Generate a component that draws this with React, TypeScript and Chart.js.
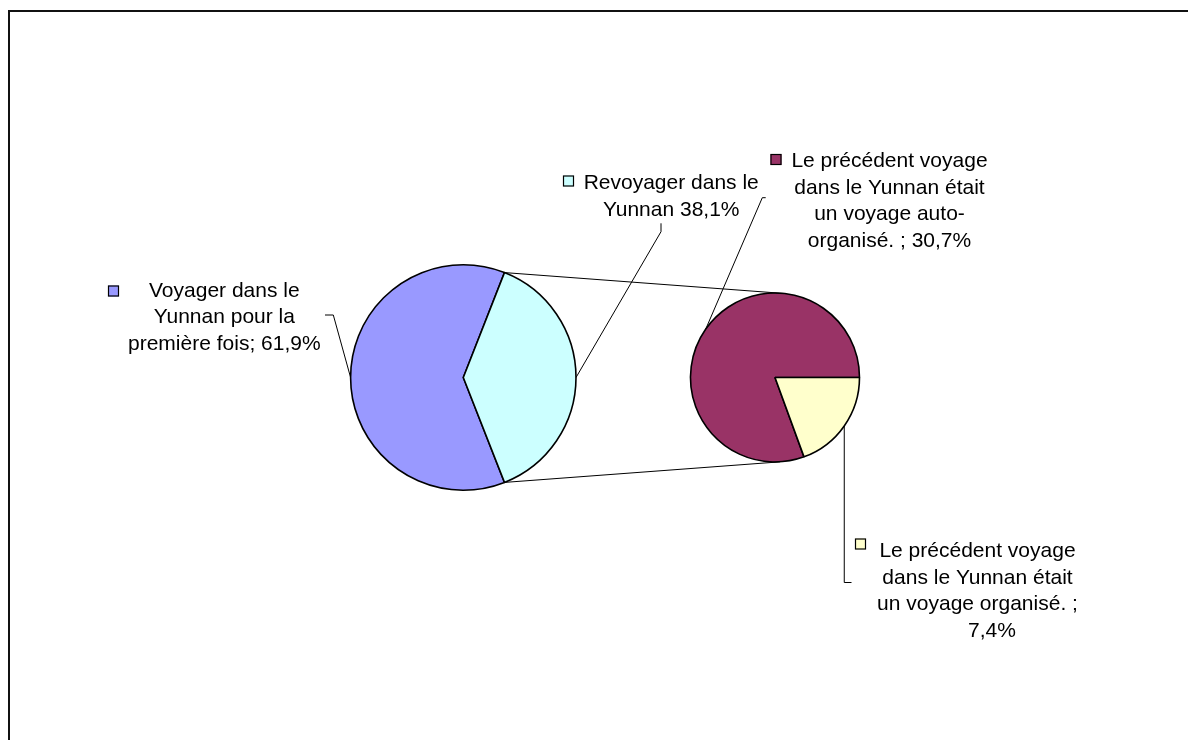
import React, { useEffect, useRef } from "react";
import { Chart, registerables } from "chart.js";

Chart.register(...registerables);

// ---------- data ----------
const firstPieLabels = ["Voyager dans le Yunnan pour la première fois", "Revoyager dans le Yunnan"];
const firstPieValues = [61.9, 38.1];
const firstPieColors = ["#9999FF", "#CCFFFF"];

const secondPieLabels = [
  "Le précédent voyage dans le Yunnan était un voyage auto-organisé.",
  "Le précédent voyage dans le Yunnan était un voyage organisé.",
];
const secondPieValues = [30.7, 7.4];
const secondPieColors = ["#993366", "#FFFFCC"];

const fmt = (v: number) => `${v.toFixed(1).replace(".", ",")}%`;

const labelLines: string[][] = [
  ["Voyager dans le", "Yunnan pour la", `première fois; ${fmt(firstPieValues[0])}`],
  ["Revoyager dans le", `Yunnan ${fmt(firstPieValues[1])}`],
  ["Le précédent voyage", "dans le Yunnan était", "un voyage auto-", `organisé. ; ${fmt(secondPieValues[0])}`],
  ["Le précédent voyage", "dans le Yunnan était", "un voyage organisé. ;", fmt(secondPieValues[1])],
];

// ---------- layout (page coordinates) ----------
const OX = 10;
const OY = 12;
const PIE1 = { cx: 463.3, cy: 377.5, r: 112.7 };
const PIE2 = { cx: 775, cy: 377.5, r: 84.5 };
const FONT = '21px "Liberation Sans", Arial, Helvetica, sans-serif';
const LINE_H = 26.8;

type LabelLayout = {
  ds: number;
  idx: number;
  cx: number;
  baseline: number;
  lineDx: number[];
  marker: [number, number];
  leader: [number, number][];
  verticalToEdge?: boolean;
};

const labelLayout: LabelLayout[] = [
  { ds: 0, idx: 0, cx: 224.3, baseline: 296.6, lineDx: [0, 0, 0], marker: [108, 285.5], leader: [[325, 315], [333.3, 315]] },
  { ds: 0, idx: 1, cx: 671.2, baseline: 189.3, lineDx: [0, 0], marker: [563, 175.5], leader: [[661, 223.3], [661, 231.7]] },
  { ds: 1, idx: 0, cx: 889.5, baseline: 166.7, lineDx: [0, 0, 0, 0], marker: [770.5, 154], leader: [[765.7, 197.7], [762.3, 197.7]] },
  { ds: 1, idx: 1, cx: 977.5, baseline: 556.7, lineDx: [0, 0, 0, 14.5], marker: [855, 538.5], leader: [[851.5, 582.5]], verticalToEdge: true },
];

const sliceColors = [firstPieColors, secondPieColors];

function placeArcs(chart: any) {
  const geo = [PIE1, PIE2];
  chart.data.datasets.forEach((_: any, i: number) => {
    const meta = chart.getDatasetMeta(i);
    const g = geo[i];
    meta.data.forEach((el: any) => {
      el.x = g.cx - OX;
      el.y = g.cy - OY;
      el.innerRadius = 0;
      el.outerRadius = g.r;
    });
  });
}

const pieOfPiePlugin = {
  id: "pieOfPie",
  afterDatasetsUpdate(chart: any) {
    placeArcs(chart);
  },
  beforeDatasetsDraw(chart: any) {
    placeArcs(chart);
  },
  afterDraw(chart: any) {
    const ctx = chart.ctx as CanvasRenderingContext2D;
    const m0 = chart.getDatasetMeta(0);
    const m1 = chart.getDatasetMeta(1);
    const split = m0.data[1] as any;
    const big = m1.data[0] as any;

    ctx.save();
    // connector lines
    ctx.strokeStyle = "#000";
    ctx.lineWidth = 1;
    const a1 = split.startAngle;
    const a2 = split.endAngle;
    const p1 = { x: split.x + split.outerRadius * Math.cos(a1), y: split.y + split.outerRadius * Math.sin(a1) };
    const p2 = { x: split.x + split.outerRadius * Math.cos(a2), y: split.y + split.outerRadius * Math.sin(a2) };
    const up = (-84 * Math.PI) / 180;
    const dn = (86.5 * Math.PI) / 180;
    const q1 = { x: big.x + big.outerRadius * Math.cos(up), y: big.y + big.outerRadius * Math.sin(up) };
    const q2 = { x: big.x + big.outerRadius * Math.cos(dn), y: big.y + big.outerRadius * Math.sin(dn) };
    ctx.beginPath();
    ctx.moveTo(p1.x, p1.y);
    ctx.lineTo(q1.x, q1.y);
    ctx.moveTo(p2.x, p2.y);
    ctx.lineTo(q2.x, q2.y);
    ctx.stroke();

    // labels + leader lines
    ctx.font = FONT;
    ctx.textAlign = "center";
    ctx.textBaseline = "alphabetic";
    labelLayout.forEach((lb, i) => {
      const el = chart.getDatasetMeta(lb.ds).data[lb.idx] as any;
      const mid = (el.startAngle + el.endAngle) / 2;
      const ex = el.x + el.outerRadius * Math.cos(mid);
      const ey = el.y + el.outerRadius * Math.sin(mid);

      ctx.strokeStyle = "#000";
      ctx.lineWidth = 1;
      ctx.beginPath();
      const pts = lb.leader.map(([x, y]) => [x - OX, y - OY]);
      if (lb.verticalToEdge) pts.push([ex, pts[0][1]]);
      ctx.moveTo(pts[0][0], pts[0][1]);
      for (let k = 1; k < pts.length; k++) ctx.lineTo(pts[k][0], pts[k][1]);
      ctx.lineTo(ex, ey);
      ctx.stroke();

      // marker
      const [mx, my] = lb.marker;
      ctx.fillStyle = sliceColors[lb.ds][lb.idx];
      ctx.fillRect(mx - OX, my - OY, 11, 11);
      ctx.lineWidth = 1.2;
      ctx.strokeRect(mx - OX + 0.5, my - OY + 0.5, 10, 10);

      // text
      ctx.fillStyle = "#000";
      labelLines[i].forEach((line, k) => {
        ctx.fillText(line, lb.cx + lb.lineDx[k] - OX, lb.baseline + k * LINE_H - OY);
      });
    });
    ctx.restore();
  },
};

export default function App() {
  const canvasRef = useRef<HTMLCanvasElement | null>(null);

  useEffect(() => {
    if (!canvasRef.current) return;
    const secondShare = secondPieValues.reduce((a, b) => a + b, 0);
    const firstTotal = firstPieValues.reduce((a, b) => a + b, 0);
    const rot0 = 90 + ((firstPieValues[1] / firstTotal) * 360) / 2;
    const rot1 = 90 + (secondPieValues[1] / secondShare) * 360;

    const chart = new Chart(canvasRef.current, {
      type: "pie",
      data: {
        labels: [...firstPieLabels, ...secondPieLabels],
        datasets: [
          {
            data: firstPieValues,
            backgroundColor: firstPieColors,
            borderColor: "#000",
            borderWidth: 1.6,
            rotation: rot0,
          } as any,
          {
            data: secondPieValues,
            backgroundColor: secondPieColors,
            borderColor: "#000",
            borderWidth: 1.6,
            rotation: rot1,
          } as any,
        ],
      },
      options: {
        responsive: false,
        animation: false,
        events: [],
        plugins: {
          legend: { display: false },
          tooltip: { enabled: false },
        },
      },
      plugins: [pieOfPiePlugin],
    });
    return () => chart.destroy();
  }, []);

  return (
    <div
      style={{
        position: "absolute",
        left: 8,
        top: 10,
        width: 1178,
        height: 728,
        borderTop: "2px solid #111",
        borderLeft: "2px solid #111",
        background: "#fff",
        overflow: "hidden",
      }}
    >
      <canvas ref={canvasRef} width={1178} height={728} style={{ display: "block" }} />
    </div>
  );
}
